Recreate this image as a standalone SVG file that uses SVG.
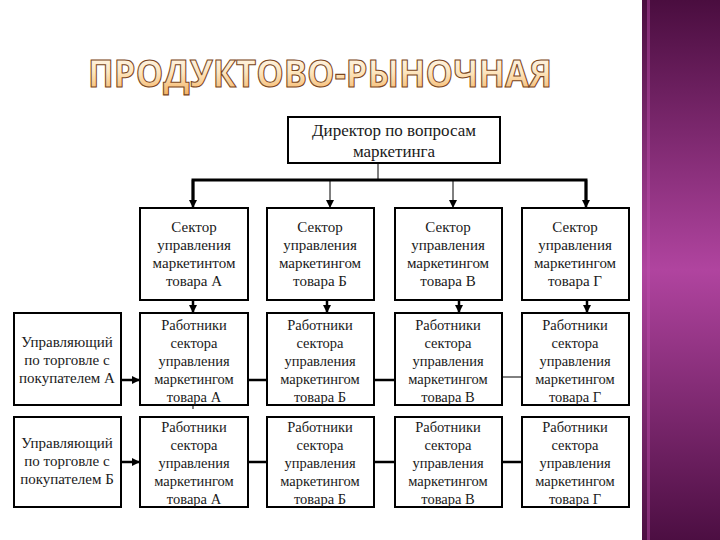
<svg xmlns="http://www.w3.org/2000/svg" width="720" height="540" viewBox="0 0 720 540">
<defs>
<linearGradient id="band" x1="0" y1="0" x2="0" y2="1">
<stop offset="0" stop-color="#4a0d3f"/>
<stop offset="0.5" stop-color="#b0449f"/>
<stop offset="1" stop-color="#4c0e42"/>
</linearGradient>
<linearGradient id="title" x1="0" y1="0" x2="0" y2="1">
<stop offset="0" stop-color="#ffffff"/>
<stop offset="0.5" stop-color="#fde6c0"/>
<stop offset="1" stop-color="#f3aa55"/>
</linearGradient>
<marker id="ah" viewBox="0 0 10 10" refX="10" refY="5" markerWidth="8" markerHeight="8" markerUnits="userSpaceOnUse" orient="auto">
<path d="M0,0 L10,5 L0,10 Z" fill="#000"/>
</marker>
</defs>
<style>
.box{fill:#fff;stroke:#000;stroke-width:2}
.t{font-family:"Liberation Serif","Times New Roman",serif;font-size:14.5px;fill:#1a1a1a;text-anchor:middle}
.s{font-size:15px}
.d{font-size:17px}
.thick{stroke:#000;stroke-width:2.5;fill:none}
.thin{stroke:#000;stroke-width:1;fill:none}
.bus{stroke:#000;stroke-width:3;fill:none}
</style>
<rect width="720" height="540" fill="#fff"/>
<rect x="642" y="0" width="78" height="540" fill="url(#band)"/>
<rect x="647" y="0" width="3" height="540" fill="#c050b0" opacity="0.45"/>
<text x="88" y="87" textLength="464" lengthAdjust="spacingAndGlyphs" font-family="'Open Sans','DejaVu Sans',sans-serif" font-size="38" font-weight="bold" fill="url(#title)" stroke="#7a4520" stroke-width="1.1">ПРОДУКТОВО-РЫНОЧНАЯ</text>

<g id="connectors">
<line class="thin" x1="378" y1="163" x2="378" y2="180"/>
<polyline class="bus" points="193,200 193,180 586,180 586,200"/>
<line class="thick" x1="193" y1="180" x2="193" y2="208" marker-end="url(#ah)"/>
<line class="thin" x1="330" y1="180" x2="330" y2="208" marker-end="url(#ah)"/>
<line class="thin" x1="453" y1="180" x2="453" y2="208" marker-end="url(#ah)"/>
<line class="thick" x1="586" y1="180" x2="586" y2="208" marker-end="url(#ah)"/>
<line class="thick" x1="193" y1="300" x2="193" y2="313" marker-end="url(#ah)"/>
<line class="thick" x1="327" y1="300" x2="327" y2="313" marker-end="url(#ah)"/>
<line class="thick" x1="459" y1="300" x2="459" y2="313" marker-end="url(#ah)"/>
<line class="thick" x1="587" y1="300" x2="587" y2="313" marker-end="url(#ah)"/>
<line class="thin" x1="193" y1="395" x2="193" y2="409"/>
<line class="thick" x1="121" y1="380" x2="140" y2="380" marker-end="url(#ah)"/>
<line class="thick" x1="248" y1="380" x2="267" y2="380"/>
<line class="thick" x1="374" y1="380" x2="395" y2="380"/>
<line class="thin" x1="502" y1="377" x2="522" y2="377"/>
<line class="thick" x1="121" y1="462" x2="140" y2="462" marker-end="url(#ah)"/>
<line class="thick" x1="248" y1="462" x2="267" y2="462"/>
<line class="thick" x1="374" y1="462" x2="395" y2="462"/>
<line class="thick" x1="502" y1="462" x2="522" y2="462"/>
</g>

<g id="director">
<rect class="box" x="288" y="117" width="212" height="46"/>
<text class="t d" x="394" y="136">Директор по вопросам</text>
<text class="t d" x="394" y="157">маркетинга</text>
</g>

<g id="sectorA">
<rect class="box" x="140" y="208" width="108" height="92"/>
<text class="t s" x="194" y="232">Сектор</text>
<text class="t s" x="194" y="250">управления</text>
<text class="t s" x="194" y="268">маркетинтом</text>
<text class="t s" x="194" y="286">товара А</text>
</g>
<g id="sectorB">
<rect class="box" x="267" y="208" width="107" height="92"/>
<text class="t s" x="320" y="232">Сектор</text>
<text class="t s" x="320" y="250">управления</text>
<text class="t s" x="320" y="268">маркетингом</text>
<text class="t s" x="320" y="286">товара Б</text>
</g>
<g id="sectorV">
<rect class="box" x="395" y="208" width="107" height="92"/>
<text class="t s" x="448" y="232">Сектор</text>
<text class="t s" x="448" y="250">управления</text>
<text class="t s" x="448" y="268">маркетингом</text>
<text class="t s" x="448" y="286">товара В</text>
</g>
<g id="sectorG">
<rect class="box" x="522" y="208" width="107" height="92"/>
<text class="t s" x="575" y="232">Сектор</text>
<text class="t s" x="575" y="250">управления</text>
<text class="t s" x="575" y="268">маркетингом</text>
<text class="t s" x="575" y="286">товара Г</text>
</g>

<g id="managerA">
<rect class="box" x="14" y="313" width="107" height="92"/>
<text class="t s" x="67" y="347">Управляющий</text>
<text class="t s" x="67" y="365">по торговле с</text>
<text class="t s" x="67" y="383">покупателем  А</text>
</g>
<g id="workersA1">
<rect class="box" x="140" y="313" width="108" height="92"/>
<text class="t" x="194" y="330">Работники</text>
<text class="t" x="194" y="348">сектора</text>
<text class="t" x="194" y="366">управления</text>
<text class="t" x="194" y="384">маркетингом</text>
<text class="t" x="194" y="402">товара А</text>
</g>
<g id="workersB1">
<rect class="box" x="267" y="313" width="107" height="92"/>
<text class="t" x="320" y="330">Работники</text>
<text class="t" x="320" y="348">сектора</text>
<text class="t" x="320" y="366">управления</text>
<text class="t" x="320" y="384">маркетингом</text>
<text class="t" x="320" y="402">товара Б</text>
</g>
<g id="workersV1">
<rect class="box" x="395" y="313" width="107" height="92"/>
<text class="t" x="448" y="330">Работники</text>
<text class="t" x="448" y="348">сектора</text>
<text class="t" x="448" y="366">управления</text>
<text class="t" x="448" y="384">маркетингом</text>
<text class="t" x="448" y="402">товара В</text>
</g>
<g id="workersG1">
<rect class="box" x="522" y="313" width="107" height="92"/>
<text class="t" x="575" y="330">Работники</text>
<text class="t" x="575" y="348">сектора</text>
<text class="t" x="575" y="366">управления</text>
<text class="t" x="575" y="384">маркетингом</text>
<text class="t" x="575" y="402">товара Г</text>
</g>

<g id="managerB">
<rect class="box" x="14" y="417" width="107" height="90"/>
<text class="t s" x="67" y="448">Управляющий</text>
<text class="t s" x="67" y="466">по торговле с</text>
<text class="t s" x="67" y="484">покупателем  Б</text>
</g>
<g id="workersA2">
<rect class="box" x="140" y="417" width="108" height="90"/>
<text class="t" x="194" y="432">Работники</text>
<text class="t" x="194" y="450">сектора</text>
<text class="t" x="194" y="468">управления</text>
<text class="t" x="194" y="486">маркетингом</text>
<text class="t" x="194" y="504">товара А</text>
</g>
<g id="workersB2">
<rect class="box" x="267" y="417" width="107" height="90"/>
<text class="t" x="320" y="432">Работники</text>
<text class="t" x="320" y="450">сектора</text>
<text class="t" x="320" y="468">управления</text>
<text class="t" x="320" y="486">маркетингом</text>
<text class="t" x="320" y="504">товара Б</text>
</g>
<g id="workersV2">
<rect class="box" x="395" y="417" width="107" height="90"/>
<text class="t" x="448" y="432">Работники</text>
<text class="t" x="448" y="450">сектора</text>
<text class="t" x="448" y="468">управления</text>
<text class="t" x="448" y="486">маркетингом</text>
<text class="t" x="448" y="504">товара В</text>
</g>
<g id="workersG2">
<rect class="box" x="522" y="417" width="107" height="90"/>
<text class="t" x="575" y="432">Работники</text>
<text class="t" x="575" y="450">сектора</text>
<text class="t" x="575" y="468">управления</text>
<text class="t" x="575" y="486">маркетингом</text>
<text class="t" x="575" y="504">товара Г</text>
</g>
</svg>
